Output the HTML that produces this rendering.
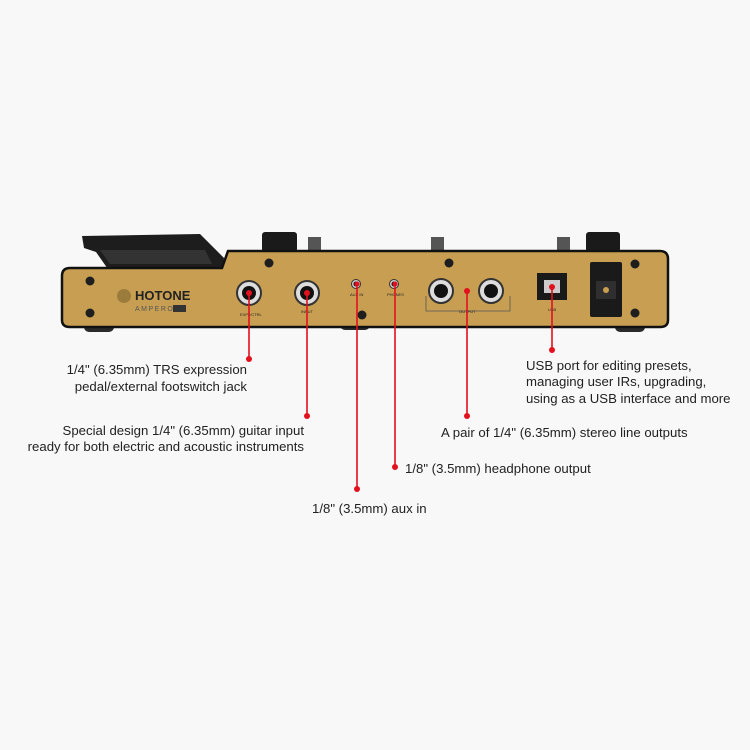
<!DOCTYPE html>
<html><head><meta charset="utf-8"><style>
html,body{margin:0;padding:0;background:#f8f8f8;}
svg{display:block}
text{font-family:"Liberation Sans","DejaVu Sans",sans-serif;fill:#222;font-size:13.2px}
</style></head><body>
<svg width="750" height="750" viewBox="0 0 750 750" xmlns="http://www.w3.org/2000/svg">
<rect width="750" height="750" fill="#f8f8f8"/>
<!-- feet -->
<rect x="84" y="320" width="30" height="12" rx="5" fill="#2a2a2a"/>
<rect x="340" y="320" width="30" height="10" rx="5" fill="#2a2a2a"/>
<rect x="615" y="320" width="30" height="12" rx="5" fill="#2a2a2a"/>
<!-- pedal -->
<path d="M82 236 L200 234 L224 258 L222 272 L110 272 L96 252 L84 248 Z" fill="#1d1d1d"/>
<path d="M100 250 L205 250 L212 264 L110 264 Z" fill="#333"/>
<!-- knobs -->
<rect x="262" y="232" width="35" height="20" rx="3" fill="#1a1a1a"/>
<rect x="586" y="232" width="34" height="20" rx="3" fill="#1a1a1a"/>
<rect x="308" y="237" width="13" height="14" fill="#555"/>
<rect x="431" y="237" width="13" height="14" fill="#555"/>
<rect x="557" y="237" width="13" height="14" fill="#555"/>
<!-- panel -->
<path d="M70 268 L222 268 L228 251 L660 251 Q668 251 668 259 L668 320 Q668 327 660 327 L70 327 Q62 327 62 320 L62 276 Q62 268 70 268 Z" fill="#c89f52" stroke="#111" stroke-width="2.5"/>
<!-- screws -->
<g fill="#1e1e1e">
<circle cx="90" cy="281" r="4.5"/><circle cx="90" cy="313" r="4.5"/>
<circle cx="269" cy="263" r="4.5"/><circle cx="449" cy="263" r="4.5"/>
<circle cx="635" cy="264" r="4.5"/><circle cx="635" cy="313" r="4.5"/>
<circle cx="362" cy="315" r="4.5"/>
</g>
<!-- logo -->
<circle cx="124" cy="296" r="7" fill="#9c7c3c"/>
<text x="135" y="300" style="font-size:13px;font-weight:bold;fill:#222">HOTONE</text>
<text x="135" y="311" style="font-size:7px;fill:#555;letter-spacing:1.5px">AMPERO</text>
<rect x="173" y="305" width="13" height="7" fill="#333"/>
<!-- jacks -->
<g>
<circle cx="249" cy="293" r="12" fill="#ddd" stroke="#333" stroke-width="2"/><circle cx="249" cy="293" r="7" fill="#111"/>
<circle cx="307" cy="293" r="12" fill="#ddd" stroke="#333" stroke-width="2"/><circle cx="307" cy="293" r="7" fill="#111"/>
<circle cx="356" cy="284" r="4.5" fill="#ccc" stroke="#333"/><circle cx="356" cy="284" r="2.5" fill="#111"/>
<circle cx="394" cy="284" r="4.5" fill="#ccc" stroke="#333"/><circle cx="394" cy="284" r="2.5" fill="#111"/>
<circle cx="441" cy="291" r="12" fill="#ddd" stroke="#333" stroke-width="2"/><circle cx="441" cy="291" r="7" fill="#111"/>
<circle cx="491" cy="291" r="12" fill="#ddd" stroke="#333" stroke-width="2"/><circle cx="491" cy="291" r="7" fill="#111"/>
</g>
<path d="M426 296 L426 311 L510 311 L510 296" fill="none" stroke="#555" stroke-width="0.8"/>
<rect x="537" y="273" width="30" height="27" fill="#1a1a1a"/>
<rect x="544" y="280" width="16" height="13" fill="#ccc"/>
<rect x="590" y="262" width="32" height="55" rx="2" fill="#1a1a1a"/>
<rect x="596" y="281" width="20" height="18" fill="#2f2f2f"/>
<circle cx="606" cy="290" r="3" fill="#c89f52"/>
<!-- tiny labels -->
<g>
<text x="240" y="316" style="font-size:4px">EXP2/CTRL</text>
<text x="301" y="313" style="font-size:4px">INPUT</text>
<text x="350" y="296" style="font-size:4px">AUX IN</text>
<text x="387" y="296" style="font-size:4px">PHONES</text>
<text x="459" y="313" style="font-size:4px">OUTPUT</text>
<text x="548" y="311" style="font-size:4px">USB</text>
</g>
<!-- red connectors -->
<g stroke="#e3101e" stroke-width="1.6">
<line x1="249" y1="293" x2="249" y2="359"/>
<line x1="307" y1="293" x2="307" y2="416"/>
<line x1="357" y1="284" x2="357" y2="489"/>
<line x1="395" y1="284" x2="395" y2="467"/>
<line x1="467" y1="291" x2="467" y2="416"/>
<line x1="552" y1="287" x2="552" y2="350"/>
</g>
<g fill="#e3101e">
<circle cx="249" cy="293" r="3"/><circle cx="249" cy="359" r="3"/>
<circle cx="307" cy="293" r="3"/><circle cx="307" cy="416" r="3"/>
<circle cx="357" cy="284" r="2.5"/><circle cx="357" cy="489" r="3"/>
<circle cx="395" cy="284" r="2.5"/><circle cx="395" cy="467" r="3"/>
<circle cx="467" cy="291" r="3"/><circle cx="467" cy="416" r="3"/>
<circle cx="552" cy="287" r="3"/><circle cx="552" cy="350" r="3"/>
</g>
<!-- labels -->
<text x="247" y="374" text-anchor="end">1/4" (6.35mm) TRS expression</text>
<text x="247" y="391" text-anchor="end">pedal/external footswitch jack</text>
<text x="304" y="435" text-anchor="end">Special design 1/4" (6.35mm) guitar input</text>
<text x="304" y="451" text-anchor="end">ready for both electric and acoustic instruments</text>
<text x="312" y="513">1/8" (3.5mm) aux in</text>
<text x="405" y="473">1/8" (3.5mm) headphone output</text>
<text x="441" y="437">A pair of 1/4" (6.35mm) stereo line outputs</text>
<text x="526" y="370">USB port for editing presets,</text>
<text x="526" y="386">managing user IRs, upgrading,</text>
<text x="526" y="403">using as a USB interface and more</text>
</svg>
</body></html>
